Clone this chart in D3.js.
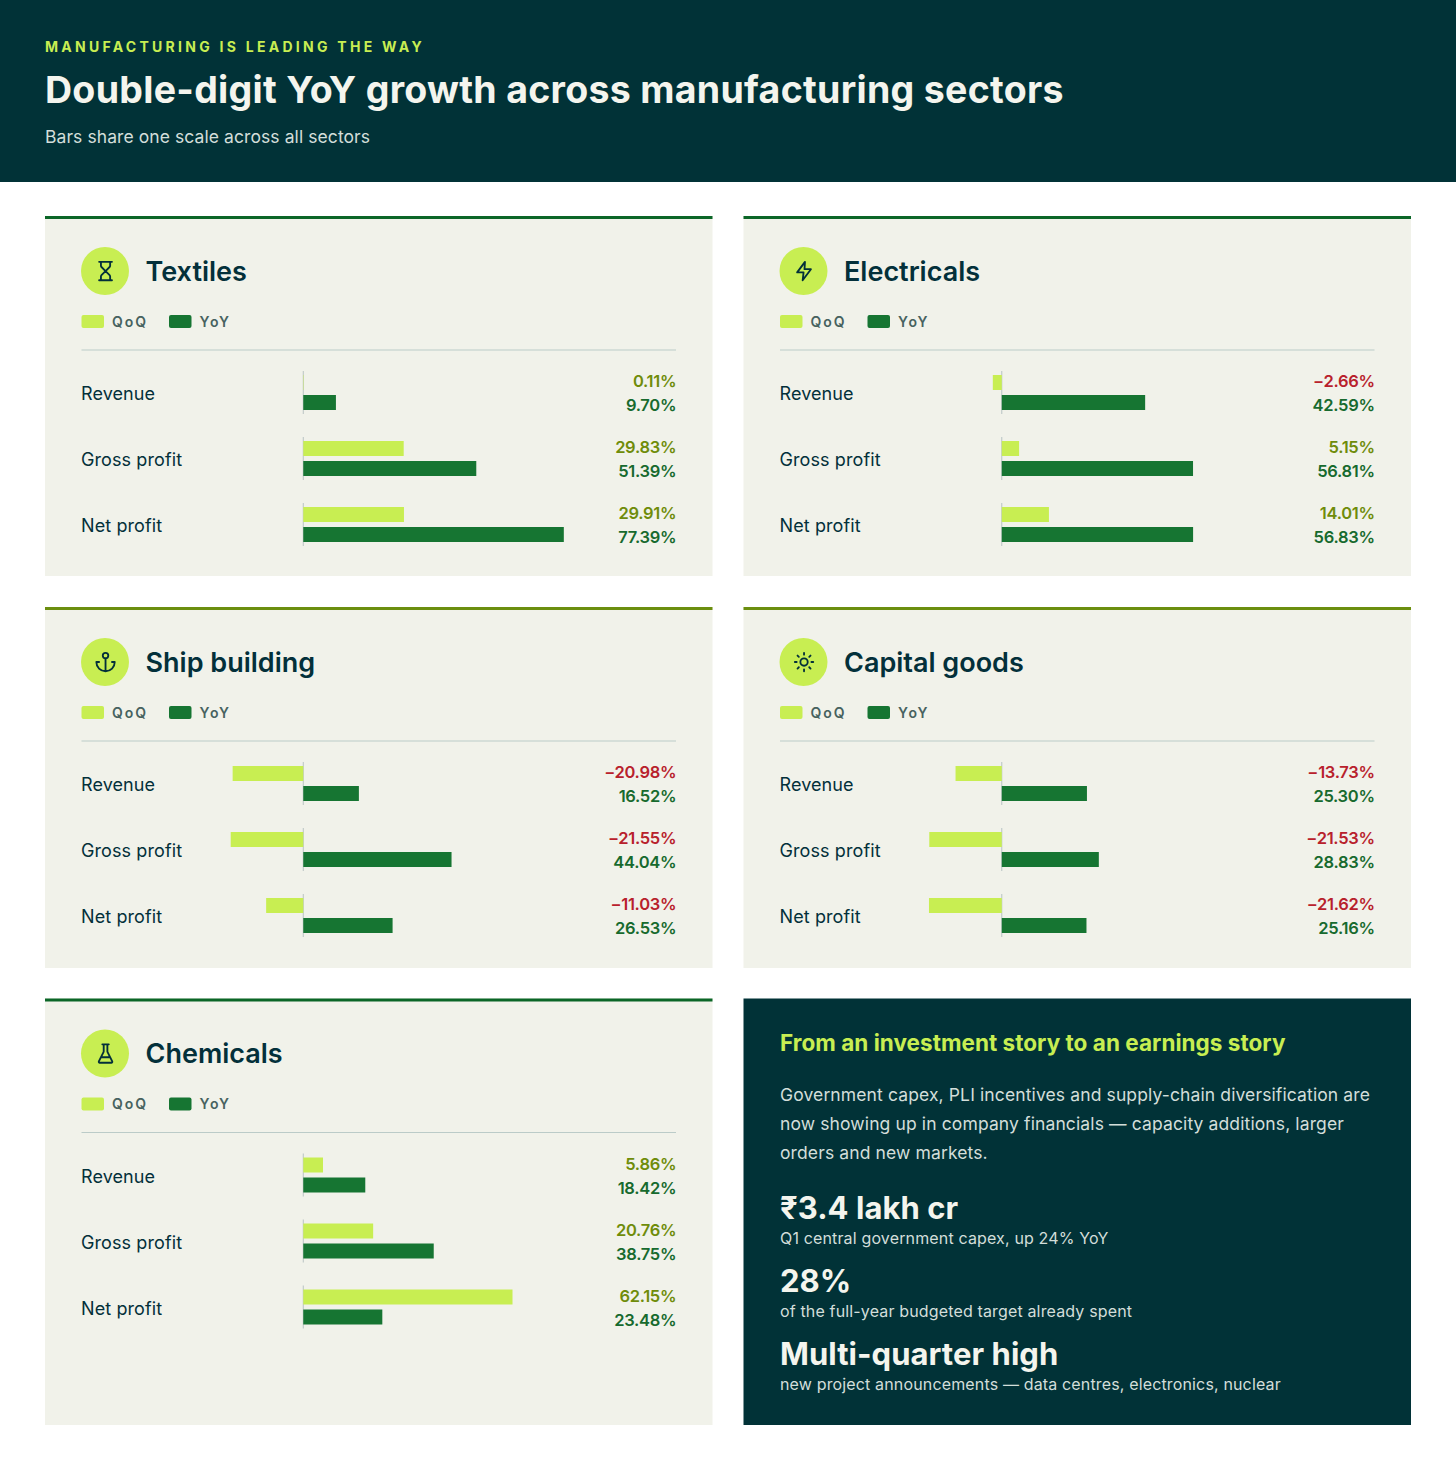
<!DOCTYPE html>
<html><head><meta charset="utf-8">
<script src="https://cdn.jsdelivr.net/npm/d3@7"></script>
<style>
html,body{margin:0;padding:0;background:#fff}
svg{display:block}
text{font-family:"Inter","Noto Sans",sans-serif}
</style></head><body><div id="c"></div>
<script>
const sectors = ["Textiles","Electricals","Ship building","Capital goods","Chemicals"];
const metrics = ["Revenue","Gross profit","Net profit"];
const qoqTextiles = [0.11,29.83,29.91];
const yoyTextiles = [9.70,51.39,77.39];
const qoqElectricals = [-2.66,5.15,14.01];
const yoyElectricals = [42.59,56.81,56.83];
const qoqShip = [-20.98,-21.55,-11.03];
const yoyShip = [16.52,44.04,26.53];
const qoqCapital = [-13.73,-21.53,-21.62];
const yoyCapital = [25.30,28.83,25.16];
const qoqChemicals = [5.86,20.76,62.15];
const yoyChemicals = [18.42,38.75,23.48];
const seriesNames = ["QoQ","YoY"];
const qoqAll = [qoqTextiles,qoqElectricals,qoqShip,qoqCapital,qoqChemicals];
const yoyAll = [yoyTextiles,yoyElectricals,yoyShip,yoyCapital,yoyChemicals];
const icons = [
 {p:"M5 22h14M5 2h14M17 22v-4.172a2 2 0 0 0-.586-1.414L12 12l-4.414 4.414A2 2 0 0 0 7 17.828V22M7 2v4.172a2 2 0 0 0 .586 1.414L12 12l4.414-4.414A2 2 0 0 0 17 6.172V2"},
 {p:"M13 2L4.5 13.5h7L10.5 22l9-12h-7z"},
 {p:"M12 22V8M5 12H2a10 10 0 0 0 20 0h-3",c:[12,5,3]},
 {p:"M12 2v2M12 20v2M4.93 4.93l1.41 1.41M17.66 17.66l1.41 1.41M2 12h2M20 12h2M6.34 17.66l-1.41 1.41M19.07 4.93l-1.41 1.41",c:[12,12,4]},
 {p:"M10 2v7.527a2 2 0 0 1-.211.896L4.72 20.55a1 1 0 0 0 .9 1.45h12.76a1 1 0 0 0 .9-1.45l-5.069-10.127A2 2 0 0 1 14 9.527V2M8.5 2h7M7 16h10"}
];
const storyTitle = "From an investment story to an earnings story";
const storyLines = ["Government capex, PLI incentives and supply-chain diversification are","now showing up in company financials — capacity additions, larger","orders and new markets."];
const statValues = ["₹3.4 lakh cr","28%","Multi-quarter high"];
const statNotes = ["Q1 central government capex, up 24% YoY","of the full-year budgeted target already spent","new project announcements — data centres, electronics, nuclear"];

const C={dark:"#013237",lime:"#C8EE52",green:"#167532",panel:"#F1F2EA",topGreen:"#0B6627",olive:"#6B8E0F",oliveText:"#6F8C0A",red:"#B8212C",greenText:"#176A2E",ink:"#03303A",rule:"#BBCBC8",zero:"#B9C4C4",legend:"#47625F"};
const svg=d3.select("#c").append("svg").attr("width",1456).attr("height",1464).attr("viewBox","0 0 1456 1464");
function T(g,x,y,s,size,weight,fill,ls,anchor){return g.append("text").attr("x",x).attr("y",y).text(s).attr("font-size",size).attr("font-weight",weight).attr("fill",fill).attr("letter-spacing",ls||0).attr("text-anchor",anchor||"start");}

svg.append("rect").attr("width",1456).attr("height",182).attr("fill",C.dark);
T(svg,45,51.5,"MANUFACTURING IS LEADING THE WAY",14,700,C.lime,3.27);
T(svg,45,102.7,"Double-digit YoY growth across manufacturing sectors",37.5,700,"#F4F5EE",0.29);
T(svg,45,143,"Bars share one scale across all sectors",17.5,400,"#D3DEDA",0.08);

const colX=[45,743.5], rowY=[216,607,998.5], panelW=667.5, heights=[360,361,426.5];
const x=d3.scaleLinear().domain([-25,80]).range([174.1,527.6]);
const rows=d3.scaleBand().domain(metrics).range([155,353]).padding(0);
const pair=d3.scaleBand().domain(seriesNames).range([0,35]).paddingInner(0.25);
const topColor=[C.topGreen,C.topGreen,C.olive,C.olive,C.topGreen];
const fmt=d3.format(".2f");

sectors.forEach((name,i)=>{
 const r=Math.floor(i/2);
 const g=svg.append("g").attr("transform",`translate(${colX[i%2]},${rowY[r]})`);
 g.append("rect").attr("width",panelW).attr("height",heights[r]).attr("fill",C.panel);
 g.append("rect").attr("width",panelW).attr("height",3).attr("fill",topColor[i]);
 g.append("circle").attr("cx",60).attr("cy",55).attr("r",24).attr("fill",C.lime);
 const ic=g.append("g").attr("transform","translate(49.5,44) scale(0.92)").attr("fill","none").attr("stroke",C.ink).attr("stroke-width",2).attr("stroke-linecap","round").attr("stroke-linejoin","round");
 ic.append("path").attr("d",icons[i].p);
 if(icons[i].c) ic.append("circle").attr("cx",icons[i].c[0]).attr("cy",icons[i].c[1]).attr("r",icons[i].c[2]);
 T(g,100.5,64.5,name,27,600,C.ink,0);
 seriesNames.forEach((s,k)=>{
  const lx=36.5+k*87.5;
  g.append("rect").attr("x",lx).attr("y",99).attr("width",22.5).attr("height",13).attr("rx",2).attr("fill",k?C.green:C.lime);
  T(g,lx+30.5,110.5,s,14,600,C.legend,1.9);
 });
 g.append("line").attr("x1",36.5).attr("x2",631).attr("y1",134).attr("y2",134).attr("stroke",C.rule).attr("stroke-width",1.2);
 metrics.forEach((m,j)=>{
  const y0=rows(m), q=qoqAll[i][j], v=yoyAll[i][j];
  T(g,36,y0+29,m,18,400,C.ink,0.1);
  g.append("line").attr("x1",x(0)).attr("x2",x(0)).attr("y1",y0).attr("y2",y0+43).attr("stroke",C.zero).attr("stroke-width",1);
  [q,v].forEach((val,k)=>{
   g.append("rect").attr("x",Math.min(x(0),x(val))).attr("y",y0+4+pair(seriesNames[k])).attr("width",Math.abs(x(val)-x(0))).attr("height",pair.bandwidth()).attr("fill",k?C.green:C.lime);
  });
  T(g,631.2,y0+16,fmt(q)+"%",16.5,600,q<0?C.red:C.oliveText,-0.3,"end");
  T(g,631.2,y0+40,fmt(v)+"%",16.5,600,C.greenText,-0.3,"end");
 });
});

const s=svg.append("g").attr("transform","translate(743.5,998.5)");
s.append("rect").attr("width",panelW).attr("height",426.5).attr("fill",C.dark);
T(s,36.5,52.5,storyTitle,22.5,700,C.lime,0.03);
storyLines.forEach((l,i)=>T(s,36.5,102.5+i*29,l,17.5,400,"#D3DEDA",0.12));
[218,291,364].forEach((y,i)=>{
 T(s,36.5,y+2.5,statValues[i],31,700,"#F4F5EE",0.05);
 T(s,36.5,y+27.5,statNotes[i],16,400,"#D3DEDA",0.15);
});
</script></body></html>
